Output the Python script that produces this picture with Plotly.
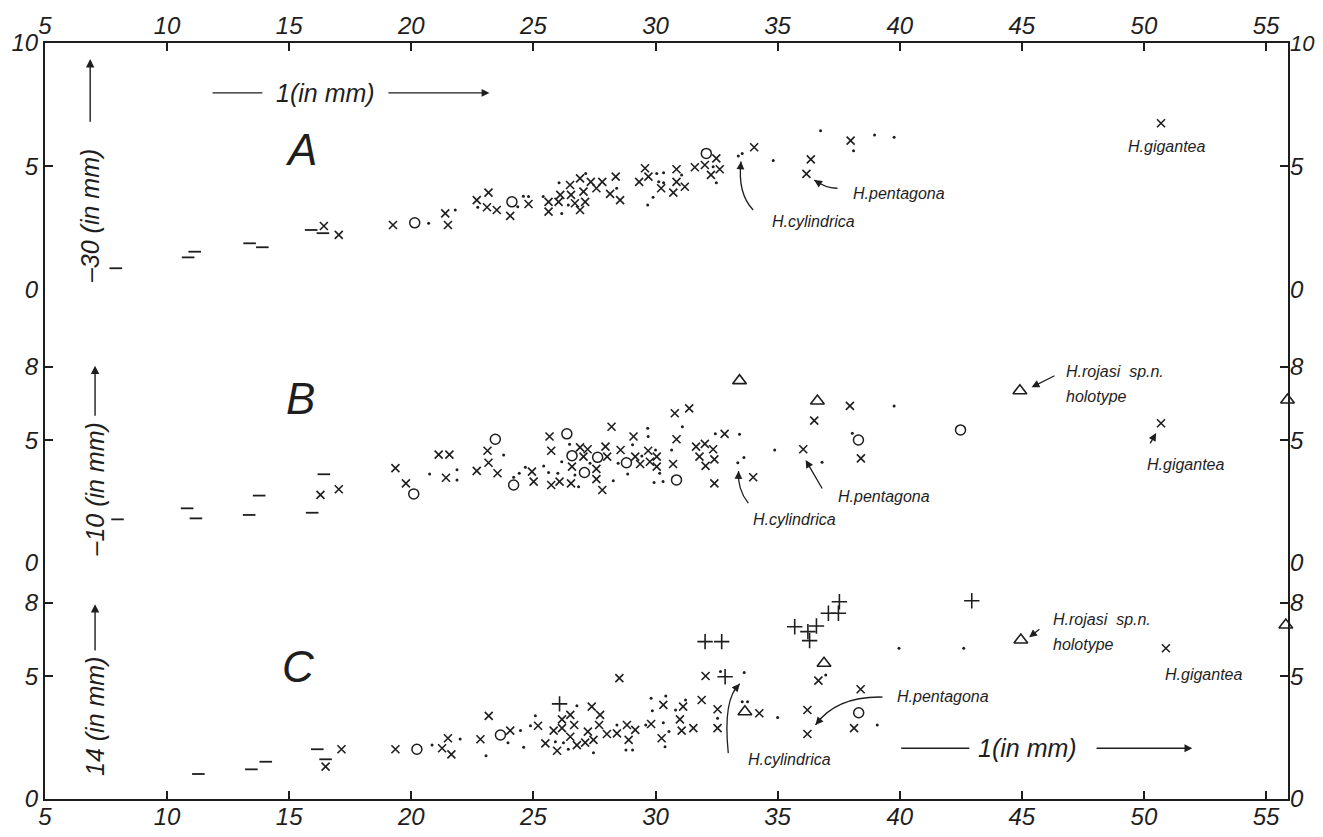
import plotly.graph_objects as go

# ---------------- data ----------------
# Panel A : l-30 vs l
A_cross_x = [16.42, 17.03, 19.25, 21.39, 21.5, 22.68, 23.16, 23.1, 23.5, 24.05, 24.8, 25.62, 25.62, 26.03, 26.1, 26.5, 26.54, 26.7, 26.91, 27.05, 27.12, 26.91, 27.35, 27.58, 27.82, 28.14, 28.37, 28.55, 29.33, 29.57, 29.71, 30.23, 30.86, 30.86, 30.73, 31.2, 31.61, 32.02, 32.49, 32.63, 32.27, 34.04, 36.36, 36.18, 37.99, 50.7]
A_cross_y = [2.59, 2.23, 2.63, 3.1, 2.63, 3.64, 3.94, 3.35, 3.24, 3.0, 3.48, 3.57, 3.17, 3.57, 3.85, 4.25, 3.85, 3.51, 4.52, 3.98, 3.57, 3.24, 4.38, 4.12, 4.38, 3.89, 4.59, 3.64, 4.38, 4.93, 4.59, 4.12, 4.89, 4.38, 3.94, 4.18, 4.97, 5.06, 5.33, 4.89, 4.66, 5.78, 5.29, 4.7, 6.05, 6.75]
A_dot_x = [20.71, 21.8, 22.72, 24.36, 24.59, 24.8, 25.4, 26.05, 26.16, 27.14, 26.43, 28.41, 30.05, 30.33, 30.13, 30.33, 29.9, 29.68, 31.07, 32.36, 32.49, 33.39, 33.55, 34.82, 36.76, 38.11, 38.97, 39.77]
A_dot_y = [2.7, 3.24, 3.35, 3.37, 3.8, 3.78, 3.78, 4.34, 3.1, 4.72, 3.44, 4.12, 4.72, 4.75, 4.38, 4.34, 3.75, 3.44, 4.66, 4.99, 4.34, 5.42, 5.53, 5.24, 6.45, 5.64, 6.28, 6.18]
A_circle_x = [20.14, 24.12, 32.08]
A_circle_y = [2.72, 3.57, 5.53]
A_dash_x = [7.9, 10.86, 11.13, 13.38, 13.9, 15.9, 16.38]
A_dash_y = [0.88, 1.32, 1.55, 1.89, 1.73, 2.43, 2.3]

# Panel B : l-10 vs l
B_cross_x = [16.28, 17.03, 19.35, 19.78, 21.12, 21.56, 21.42, 22.68, 23.16, 23.12, 23.53, 24.94, 25.01, 25.73, 26.07, 26.54, 25.66, 25.73, 26.91, 27.22, 27.05, 26.58, 27.58, 27.58, 27.82, 28.02, 27.95, 28.2, 28.57, 29.1, 29.17, 29.37, 29.7, 29.77, 30.05, 30.05, 30.72, 30.86, 30.79, 31.38, 31.66, 32.02, 32.36, 31.8, 32.41, 32.05, 32.83, 32.41, 34.0, 36.05, 36.5, 37.96, 38.41, 50.7]
B_cross_y = [2.78, 3.01, 3.87, 3.25, 4.42, 4.42, 3.48, 3.76, 4.09, 4.58, 3.66, 3.73, 3.32, 3.18, 3.32, 3.25, 5.16, 4.58, 4.72, 4.64, 4.34, 3.93, 3.84, 3.42, 2.98, 4.34, 4.75, 5.56, 4.61, 5.16, 4.34, 4.04, 4.58, 4.13, 4.34, 3.93, 4.04, 5.05, 6.11, 6.31, 4.75, 4.86, 4.64, 4.34, 4.23, 3.96, 5.27, 3.25, 3.5, 4.64, 5.81, 6.41, 4.27, 5.7]
B_dot_x = [20.75, 21.87, 21.87, 23.78, 24.19, 24.42, 24.67, 25.42, 25.62, 26.0, 26.85, 26.16, 26.48, 26.7, 27.32, 28.27, 28.47, 28.86, 29.06, 29.44, 29.68, 29.7, 30.0, 30.17, 29.94, 30.31, 30.66, 31.1, 32.45, 33.44, 33.37, 33.62, 34.88, 36.82, 38.06, 39.77]
B_dot_y = [3.63, 3.8, 3.39, 4.41, 3.5, 3.66, 3.91, 3.96, 3.69, 3.66, 3.11, 4.13, 4.85, 3.59, 4.07, 3.36, 4.07, 3.63, 4.82, 4.37, 5.5, 5.16, 4.61, 3.66, 3.28, 3.32, 4.61, 5.56, 5.27, 5.25, 4.09, 4.3, 4.61, 4.11, 5.29, 6.41]
B_circle_x = [20.1, 23.44, 24.19, 26.37, 26.58, 27.09, 27.63, 28.81, 30.86, 38.31, 42.49]
B_circle_y = [2.82, 5.05, 3.18, 5.27, 4.38, 3.69, 4.31, 4.09, 3.39, 5.02, 5.43]
B_dash_x = [7.97, 10.82, 11.18, 13.36, 13.77, 15.94, 16.42]
B_dash_y = [1.78, 2.23, 1.82, 1.96, 2.75, 2.05, 3.62]
B_tri_x = [33.44, 36.63, 44.92, 55.88]
B_tri_y = [7.44, 6.61, 7.03, 6.65]

# Panel C : l-14 vs l
C_cross_x = [16.49, 17.14, 19.35, 21.26, 21.5, 21.64, 22.83, 23.17, 24.05, 25.19, 25.49, 25.83, 25.97, 26.17, 26.17, 26.51, 26.67, 26.51, 26.78, 27.12, 27.23, 27.39, 27.73, 27.69, 27.46, 28.01, 28.42, 28.52, 28.83, 29.17, 28.9, 29.82, 30.32, 30.25, 31.13, 31.0, 31.07, 31.55, 31.89, 32.05, 32.54, 32.54, 34.25, 36.67, 36.22, 36.22, 38.4, 38.13, 50.9]
C_cross_y = [1.32, 2.03, 2.03, 2.07, 2.48, 1.82, 2.44, 3.39, 2.79, 2.99, 2.27, 2.79, 1.97, 3.25, 2.89, 3.43, 3.02, 2.54, 2.2, 2.3, 2.75, 3.77, 3.43, 3.02, 2.41, 2.65, 2.68, 4.93, 3.02, 2.82, 2.41, 3.06, 3.84, 2.48, 3.77, 3.25, 2.79, 2.89, 4.04, 5.02, 3.66, 2.89, 3.5, 4.83, 3.63, 2.65, 4.48, 2.89, 6.15]
C_dot_x = [20.85, 22.0, 23.06, 23.96, 24.47, 24.6, 24.88, 25.08, 25.9, 26.78, 26.23, 26.43, 27.46, 28.42, 28.79, 29.06, 29.6, 29.82, 29.87, 30.42, 30.32, 30.39, 30.55, 31.23, 30.82, 32.66, 32.54, 33.63, 33.55, 33.77, 35.0, 36.97, 39.08, 39.97, 42.62]
C_dot_y = [2.2, 2.45, 1.76, 2.3, 2.79, 2.11, 2.99, 3.4, 2.34, 3.8, 2.3, 2.03, 1.89, 3.02, 2.0, 2.0, 3.02, 4.11, 3.6, 4.2, 3.11, 2.13, 2.75, 4.04, 3.63, 5.2, 3.29, 5.16, 3.97, 3.97, 3.33, 5.06, 3.02, 6.15, 6.15]
C_circle_x = [20.23, 23.65, 38.32]
C_circle_y = [2.03, 2.61, 3.52]
C_dash_x = [11.28, 13.45, 14.04, 16.15, 16.49]
C_dash_y = [1.02, 1.21, 1.52, 2.03, 1.62]
C_plus_x = [26.07, 32.03, 32.71, 32.85, 35.7, 36.24, 36.59, 36.31, 37.08, 37.49, 37.53, 42.95]
C_plus_y = [3.88, 6.42, 6.42, 4.99, 7.03, 6.83, 7.06, 6.46, 7.58, 7.58, 8.05, 8.09]
C_tri_x = [33.66, 36.9, 44.96, 55.81]
C_tri_y = [3.56, 5.54, 6.49, 7.1]

x_ticks = [5, 10, 15, 20, 25, 30, 35, 40, 45, 50, 55]
A_yticks = [0, 5, 10]
B_yticks = [0, 5, 8]
C_yticks = [0, 5, 8]

# ---------------- figure ----------------
INK = "#1e1e1e"
FONT = "Liberation Sans"
fig = go.Figure()

STY = {
    "cross": dict(symbol="x-thin", size=8, line=dict(width=1.6, color=INK), color=INK),
    "dot": dict(symbol="circle", size=3, color=INK, line=dict(width=0)),
    "circle": dict(symbol="circle-open", size=10, line=dict(width=1.5, color=INK), color=INK),
    "dash": dict(symbol="line-ew", size=9, line=dict(width=1.8, color=INK), color=INK),
    "plus": dict(symbol="cross-thin", size=11, line=dict(width=1.6, color=INK), color=INK),
    "tri": dict(symbol="triangle-up", size=12, color="white", line=dict(width=1.6, color=INK)),
}

def add(xs, ys, kind, ax):
    fig.add_trace(go.Scatter(x=xs, y=ys, mode="markers", marker=STY[kind],
                             xaxis="x" + ax, yaxis="y" + ax, showlegend=False,
                             cliponaxis=False, hoverinfo="skip"))

for xs, ys, k in [(A_cross_x, A_cross_y, "cross"), (A_dot_x, A_dot_y, "dot"),
                  (A_circle_x, A_circle_y, "circle"), (A_dash_x, A_dash_y, "dash")]:
    add(xs, ys, k, "")
for xs, ys, k in [(B_cross_x, B_cross_y, "cross"), (B_dot_x, B_dot_y, "dot"),
                  (B_circle_x, B_circle_y, "circle"), (B_dash_x, B_dash_y, "dash"),
                  (B_tri_x, B_tri_y, "tri")]:
    add(xs, ys, k, "2")
for xs, ys, k in [(C_cross_x, C_cross_y, "cross"), (C_dot_x, C_dot_y, "dot"),
                  (C_circle_x, C_circle_y, "circle"), (C_dash_x, C_dash_y, "dash"),
                  (C_plus_x, C_plus_y, "plus"), (C_tri_x, C_tri_y, "tri")]:
    add(xs, ys, k, "3")

XR = [5, 55.9]
tickfont = dict(family=FONT, size=24, color=INK, style="italic")
common_x = dict(range=XR, tickvals=x_ticks, ticks="inside", ticklen=8, tickwidth=1.6,
                tickcolor=INK, showline=True, linecolor=INK, linewidth=2, showgrid=False,
                zeroline=False, tickfont=tickfont, automargin=False)
common_y = dict(ticks="inside", ticklen=8, tickwidth=1.6, tickcolor=INK, showline=True,
                linecolor=INK, linewidth=2, mirror="ticks", showgrid=False, zeroline=False,
                tickfont=tickfont, automargin=False)

dA = [0.6733, 1.0]
dB = [0.3122, 0.6733]
dC = [0.0, 0.3122]
rA = [0, 10]
rB = [0, 11.14]
rC = [0, 9.63]

# the page body adds an 8px margin, so the figure is 16px smaller than the window
fig.update_layout(
    width=1307, height=821,
    margin=dict(l=37, r=27, t=35, b=30, autoexpand=False),
    paper_bgcolor="white", plot_bgcolor="white",
    font=dict(family=FONT, color=INK, style="italic"),
    xaxis=dict(common_x, anchor="y", side="top", ticklabelstandoff=-3),
    xaxis2=dict(range=XR, anchor="y2", visible=False, matches="x"),
    xaxis3=dict(common_x, anchor="y3", side="bottom", matches="x", ticklabelstandoff=-5),
    yaxis=dict(common_y, domain=dA, range=rA, tickvals=A_yticks, anchor="x"),
    yaxis2=dict(common_y, domain=dB, range=rB, tickvals=B_yticks, anchor="x2"),
    yaxis3=dict(common_y, domain=dC, range=rC, tickvals=C_yticks, anchor="x3"),
)

ann = []
shapes = []
def text(x, y, s, ax, size=16, angle=0, xanchor="center"):
    ann.append(dict(x=x, y=y, xref="x" + ax, yref="y" + ax, text=s, showarrow=False,
                    textangle=angle, xanchor=xanchor, yanchor="middle",
                    font=dict(family=FONT, size=size, color=INK, style="italic")))

def arrow(x0, y0, x1, y1, ax, head=2, w=1.3, hs=1.2):
    ann.append(dict(x=x1, y=y1, ax=x0, ay=y0, xref="x" + ax, yref="y" + ax,
                    axref="x" + ax, ayref="y" + ax, text="", showarrow=True,
                    arrowhead=head, arrowwidth=w, arrowsize=hs, arrowcolor=INK))

def curve(x0, y0, cx, cy, x1, y1, ax):
    shapes.append(dict(type="path", xref="x" + ax, yref="y" + ax,
                       path=f"M {x0},{y0} Q {cx},{cy} {x1},{y1}",
                       line=dict(color=INK, width=1.3)))
    t = 0.85
    px = (1 - t) ** 2 * x0 + 2 * t * (1 - t) * cx + t ** 2 * x1
    py = (1 - t) ** 2 * y0 + 2 * t * (1 - t) * cy + t ** 2 * y1
    arrow(px, py, x1, y1, ax)

# right-hand tick labels (same values as the left axes)
for ticks, yr in [(A_yticks, "y"), (B_yticks, "y2"), (C_yticks, "y3")]:
    for v in ticks:
        ann.append(dict(x=1, y=v, xref="paper", yref=yr, text=str(v), showarrow=False,
                        xanchor="left", yanchor="middle", xshift=0,
                        font=dict(family=FONT, size=22 if v >= 10 else 24,
                                  color=INK, style="italic")))

# panel letters
text(15.47, 5.67, "A", "", size=44)
text(15.47, 6.73, "B", "2", size=44)
text(15.4, 5.4, "C", "3", size=44)

# y titles
text(6.85, 3.0, "\u201330 (in mm)", "", size=25, angle=-90)
arrow(6.85, 6.75, 6.85, 9.35, "", head=2, w=1.4)
text(7.05, 3.0, "\u201310 (in mm)", "2", size=25, angle=-90)
arrow(7.05, 5.95, 7.05, 8.05, "2", head=2, w=1.4)
text(7.05, 3.35, "14 (in mm)", "3", size=25, angle=-90)
arrow(7.05, 6.0, 7.05, 7.95, "3", head=2, w=1.4)

# x titles
text(16.5, 7.98, "1(in mm)", "", size=25)
arrow(11.8, 7.98, 13.9, 7.98, "", head=0)
arrow(19.0, 7.98, 23.2, 7.98, "", head=2)
text(45.25, 2.07, "1(in mm)", "3", size=25)
arrow(40.0, 2.07, 42.85, 2.07, "3", head=0)
arrow(48.0, 2.07, 51.98, 2.07, "3", head=2)

# species labels, panel A
text(36.45, 2.77, "H.cylindrica", "")
curve(34.0, 3.24, 33.35, 3.9, 33.5, 5.2, "")
text(39.97, 3.91, "H.pentagona", "")
curve(37.45, 4.12, 37.0, 4.1, 36.5, 4.45, "")
text(50.92, 5.8, "H.gigantea", "")

# panel B
text(35.7, 1.76, "H.cylindrica", "2")
curve(33.8, 2.44, 33.35, 3.0, 33.4, 3.75, "2")
text(39.35, 2.71, "H.pentagona", "2")
arrow(36.86, 2.98, 36.15, 4.2, "2")
text(46.73, 7.81, "H.rojasi  sp.n.", "2", xanchor="left")
text(46.73, 6.79, "holotype", "2", xanchor="left")
arrow(46.4, 7.67, 45.4, 7.17, "2")
text(51.7, 4.0, "H.gigantea", "2")
arrow(50.22, 4.82, 50.5, 5.3, "2")

# panel C
text(35.5, 1.62, "H.cylindrica", "3")
curve(32.98, 1.87, 32.75, 4.1, 33.45, 4.7, "3")
text(41.77, 4.18, "H.pentagona", "3")
curve(39.3, 4.16, 37.4, 4.2, 36.55, 3.02, "3")
text(46.19, 7.31, "H.rojasi  sp.n.", "3", xanchor="left")
text(46.19, 6.29, "holotype", "3", xanchor="left")
arrow(45.78, 6.97, 45.3, 6.6, "3")
text(52.43, 5.06, "H.gigantea", "3")

fig.update_layout(annotations=ann, shapes=shapes)
fig.write_html("out.html")
